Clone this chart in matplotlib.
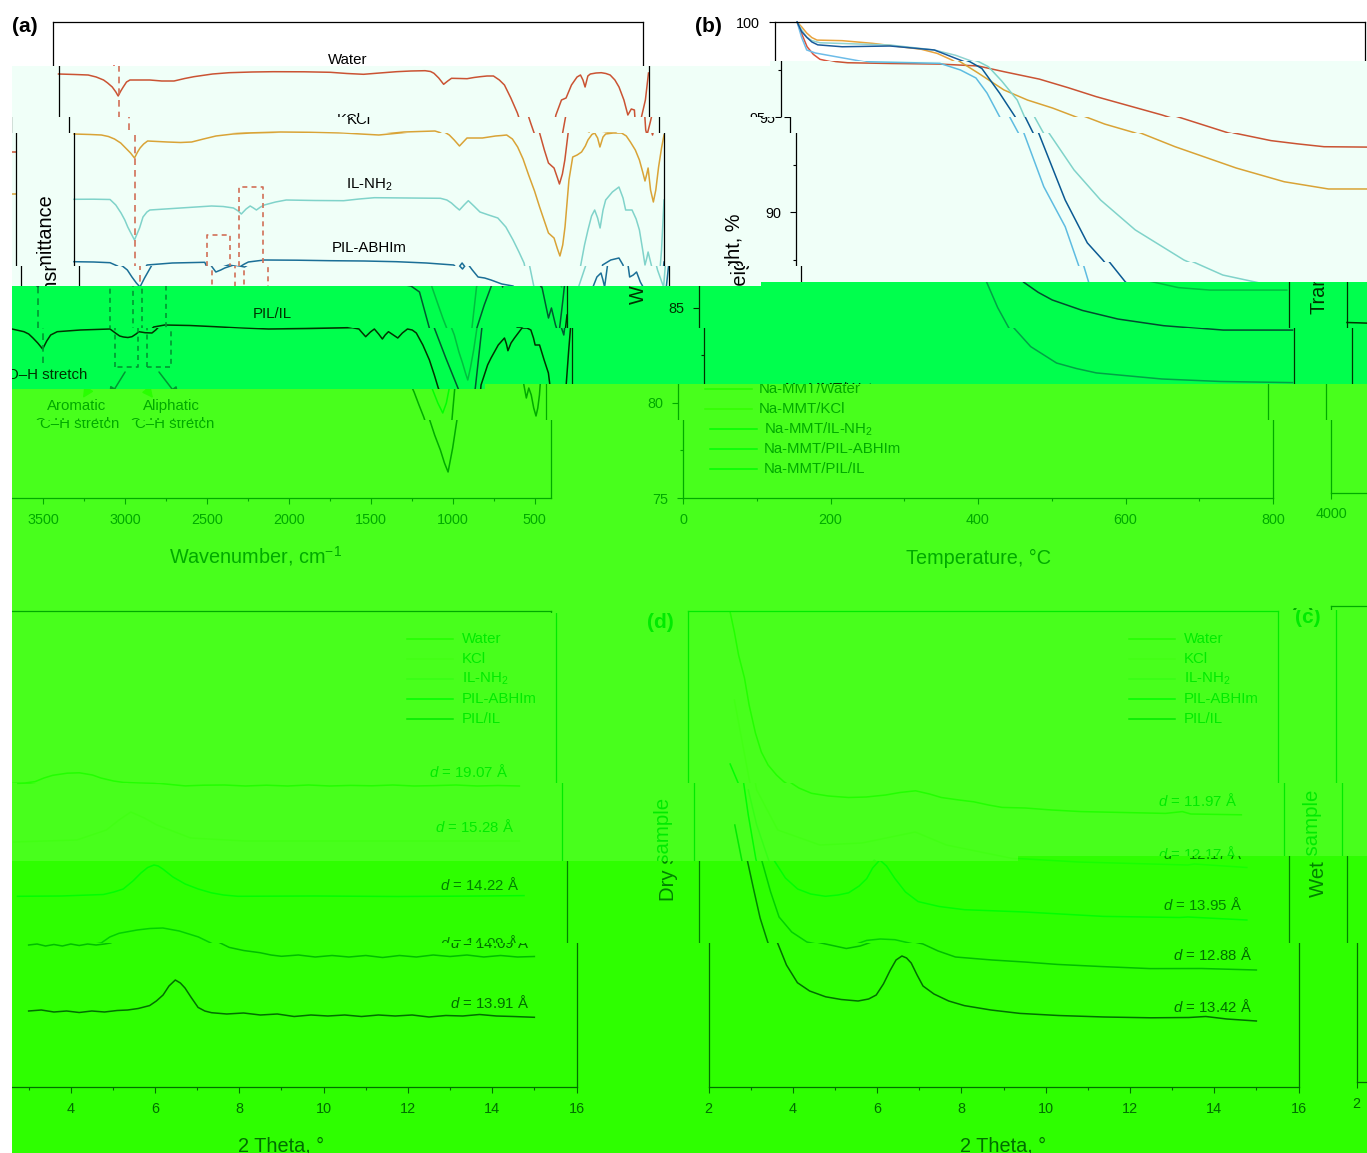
import matplotlib
matplotlib.use("Agg")
import matplotlib.pyplot as plt
from matplotlib.colors import to_rgb
from matplotlib.patches import Rectangle
from matplotlib.text import Text
from matplotlib.transforms import Bbox

plt.rcParams['font.family'] = ['Liberation Sans', 'DejaVu Sans']
plt.rcParams['mathtext.fontset'] = 'custom'
plt.rcParams['mathtext.rm'] = 'Liberation Sans'
plt.rcParams['mathtext.it'] = 'Liberation Sans:italic'
plt.rcParams['mathtext.bf'] = 'Liberation Sans:bold'
plt.rcParams['mathtext.default'] = 'regular'

W_PX, H_PX = 1367, 1153

# ---------- panel (a): FTIR, stacked transmittance (a.u., axis reads downward): (wavenumber, level)
ftir_water = [(4000,74),(3900,74.5),(3819,75),(3770,77),(3725,80),(3700,83),(3672,87),(3650,92),(3636,96),(3620,91),(3605,87),(3585,82),(3564,80),(3500,80),(3443,80),(3370,81),(3295,81),(3230,78.5),(3174,76.7),(3060,74),(2959,72.7),(2820,72),(2690,71.7),(2500,71.8),(2341,72.3),(2240,73.5),(2139,74.3),(2040,73),(1938,71.7),(1850,71),(1763,70.7),(1730,71.5),(1709,73.3),(1680,78),(1650,84.3),(1625,81),(1602,78.3),(1550,78.5),(1507,78.7),(1465,77.5),(1427,76.7),(1385,76),(1346,76),(1310,80),(1279,85),(1240,98),(1200,113),(1180,123),(1159,133),(1130,150),(1105,163),(1085,166),(1071,168),(1050,178),(1038,184),(1020,174),(1005,160),(985,133),(965,115),(931,100),(903,98),(870,85),(836,77),(815,75),(800,80),(787,87),(770,76),(755,74),(720,73),(688,72.7),(660,73.5),(634,75),(605,80),(580,87),(550,100),(526,115),(505,109),(486,110),(478,130),(470,135),(450,122),(419,100),(400,73)]
ftir_kcl = [(4000,134),(3900,134.5),(3833,135),(3790,136.5),(3753,139),(3715,143),(3685,148),(3655,153),(3631,158),(3612,152),(3597,148),(3575,144),(3551,141),(3490,141.5),(3430,142),(3350,142.5),(3282,142),(3210,139),(3134,136),(3030,134),(2920,133),(2810,132.5),(2706,132),(2530,132.3),(2355,133),(2250,134),(2140,135),(2045,133.5),(1952,132),(1860,131.5),(1764,131),(1735,132.5),(1710,135),(1680,140),(1648,146),(1625,142),(1602,138),(1555,138),(1508,138),(1468,137),(1428,136),(1390,135.5),(1360,135),(1325,139),(1293,147),(1260,159),(1226,175),(1190,191),(1159,207),(1130,221),(1105,233),(1085,236),(1071,238),(1050,249),(1035,256),(1018,245),(1004,227),(980,180),(957,157),(930,155),(903,152),(880,146),(864,140),(840,134.5),(823,133),(805,138),(791,147),(772,137),(756,134),(710,133),(659,133),(630,136),(605,142),(575,150),(550,160),(530,172),(516,181),(505,174),(497,168),(482,190),(465,202),(450,190),(433,167),(415,148),(400,135)]
ftir_il = [(4000,199.3),(3880,199.2),(3780,199.5),(3745,205),(3713,213),(3690,220),(3672,227),(3650,234),(3631,240),(3600,228),(3579,217),(3555,212),(3537,210),(3350,208),(3161,206),(3090,206.5),(3027,208),(2998,211),(2979,214),(2950,209),(2925,206),(2905,208),(2887,210),(2862,207),(2839,205),(2770,202),(2705,200),(2530,200.5),(2355,200.7),(2260,199),(2167,197.7),(1960,198),(1764,198.3),(1725,200),(1697,203),(1670,207),(1648,210),(1620,205),(1594,200.7),(1560,206),(1523,212),(1470,215),(1414,218),(1365,227),(1321,240),(1285,252),(1254,263),(1224,287),(1190,303),(1158,318),(1118,335),(1090,352),(1068,363),(1050,373),(1036,380),(1020,368),(1000,350),(980,328),(952,287),(909,266),(885,245),(864,230),(842,216),(823,210),(805,218),(790,228),(772,210),(756,200),(715,192),(675,187),(650,198),(634,210),(615,210),(595,210),(570,219),(550,230),(530,250),(516,265),(505,258),(497,252),(470,270),(433,287),(415,250),(400,200)]
ftir_abh = [(4000,261.7),(3880,262),(3780,262.7),(3735,266),(3705,270),(3677,277),(3650,283),(3628,287),(3600,278),(3555,265),(3400,263),(3202,262.3),(3192,266),(3165,272),(3135,270),(3111,268),(3057,265),(3020,266),(2990,267),(2960,264),(2936,262),(2839,260),(2640,260.2),(2435,260.7),(2230,261),(2032,261.7),(1850,263),(1683,265),(1660,269),(1632,263),(1600,270),(1565,277),(1525,278),(1486,280),(1420,284),(1352,286),(1300,292),(1240,328),(1170,358),(1096,388),(1060,403),(1030,413),(1008,403),(990,388),(950,328),(905,305),(864,287),(840,277),(815,273),(803,280),(793,287),(775,265),(725,260),(675,258),(650,265),(640,277),(618,275),(598,272),(575,282),(558,287),(553,287),(513,318),(495,308),(470,325),(450,335),(425,300),(400,262)]
ftir_pil = [(4000,328),(3900,328.5),(3817,329),(3744,331.7),(3715,334),(3689,338),(3660,343),(3630,349),(3605,341),(3581,335),(3541,331.7),(3400,330),(3219,329),(3186,333),(3160,336),(3137,337),(3110,337.5),(3085,336.7),(3060,334),(3043,331.7),(3005,332.7),(2963,333),(2940,330),(2922,327),(2855,325),(2700,325.5),(2546,326.7),(2400,328),(2251,329),(2000,328.5),(1740,327.7),(1700,329),(1686,331.7),(1659,336.7),(1630,332),(1606,329),(1580,334),(1557,339),(1540,335),(1520,331.7),(1490,335),(1463,338),(1435,333),(1404,329),(1375,330),(1350,333),(1310,345),(1270,360),(1240,375),(1216,388),(1205,392),(1175,405),(1146,417),(1110,435),(1075,450),(1050,463),(1028,472),(1000,448),(974,420),(955,385),(935,375),(915,365),(894,358),(850,345),(812,338),(800,344),(791,350.7),(772,343),(751,338),(705,328),(675,328),(651,330),(635,338),(625,345),(610,345),(598,345),(570,360),(544,373),(535,385),(520,398),(505,388),(490,395),(475,408),(461,416),(450,408),(440,395),(420,350),(409,328),(400,315)]
aromatic_wn = [3188, 3046]
aliphatic_wn = [2993, 2849]
oh_wn = [3630]

# ---------- panel (b): TGA: (temperature, weight %)
tga_water = [(30,100),(36,99.4),(43.5,98.70),(52,98.3),(61,98.04),(75,97.92),(91,97.86),(150,97.82),(216,97.79),(268,97.69),(303,97.39),(351,97.0),(390,96.55),(428,96.08),(517,95.12),(594,94.17),(644,93.77),(680,93.6),(716,93.45),(774,93.43),(800,93.43)]
tga_kcl = [(30,100),(36,99.75),(43,99.42),(50,99.18),(57,99.05),(91,99.02),(132,98.88),(198,98.57),(220,98.35),(240,98.0),(268,97.32),(303,96.43),(335,95.9),(369,95.48),(426,94.64),(466,94.19),(514,93.45),(597,92.33),(662,91.61),(722,91.23),(800,91.23)]
tga_il = [(30,100),(36,99.6),(43,99.2),(50,99.02),(61,98.91),(156,98.79),(216,98.53),(245,98.25),(269,97.91),(282,97.65),(300,96.9),(321,95.90),(331,95.01),(343,94.17),(377,92.23),(413,90.65),(460,89.08),(526,87.50),(572,86.71),(614,86.36),(650,86.05),(693,85.92),(797,85.92)]
tga_abh = [(30,100),(36,99.2),(43,98.53),(55,98.37),(121,97.91),(216,97.83),(244,97.48),(265,97.06),(280,96.27),(297,95.03),(309,94.17),(336,91.35),(365,89.25),(383,87.24),(390,86.34),(405,85.0),(420,83.94),(443,82.95),(478,82.09),(505,81.8),(532,81.57),(621,81.25),(700,81.12),(798,81.06)]
tga_pil = [(30,100),(36,99.5),(43,99.2),(50,98.95),(58,98.80),(91,98.70),(156,98.74),(216,98.53),(257,97.91),(273,97.56),(297,96.27),(318,95.03),(329,94.17),(365,90.65),(395,88.4),(416,87.5),(440,86.34),(460,85.8),(479,85.4),(520,84.85),(568,84.4),(630,84.05),(704,83.82),(798,83.82)]

# ---------- panel (c): XRD wet sample (a.u., axis reads downward): (2 theta, level)
wet_water = [(3.1,783.4),(3.4,783),(3.64,781.6),(3.85,778),(4.06,775.3),(4.4,773.2),(4.69,772.8),(5.0,775),(5.2,778),(5.5,781),(5.73,782.4),(6.1,783),(6.46,783.4),(7.07,785.9),(7.5,785.2),(8,785),(8.5,786),(9,785.2),(9.5,786),(10,785),(10.5,786),(11,785.4),(11.5,785.8),(12,785),(12.5,786),(13,785.6),(13.5,785),(14,786),(14.5,785.5),(15,786)]
wet_kcl = [(3,842),(4.5,840),(5.2,830),(5.5,820),(5.78,812),(6.1,818),(6.4,825),(7.2,838),(8.5,841),(15,841)]
wet_il = [(2.96,896.3),(4,896),(5.0,894.5),(5.25,892),(5.47,889),(5.7,881),(5.89,873),(6.05,867.5),(6.2,865),(6.3,866),(6.41,869),(6.65,877),(6.94,884),(7.25,889),(7.56,892.8),(7.85,895),(8.19,896.3),(10,896),(12,896.5),(14,896),(14.98,895.6)]
wet_abh = [(3,945),(3.2,944),(3.4,946),(3.6,944.5),(3.8,946),(4,944),(4.2,945.5),(4.4,944),(4.6,945),(4.8,944),(4.95,942.9),(5.15,937),(5.37,933.3),(5.8,930),(6.1,928.5),(6.41,928),(6.8,931),(7.25,936.9),(7.5,942),(7.76,947.4),(8.1,950.5),(8.49,952.7),(8.75,955),(9,956.3),(9.4,955),(9.8,957),(10.2,955.5),(10.6,957),(11,955.5),(11.4,957.5),(11.8,955.5),(12.2,957),(12.6,955),(13,956.5),(13.4,955),(13.8,957),(14.2,955.5),(14.6,957),(15,956.5)]
wet_pil = [(3,1011),(3.3,1010),(3.6,1012),(3.9,1011),(4.2,1012.5),(4.5,1011),(4.8,1012),(5.1,1010.5),(5.35,1010),(5.6,1008.5),(5.87,1005.6),(6.03,1001),(6.19,995),(6.33,986),(6.48,980),(6.6,983),(6.71,988),(6.85,997),(7.02,1007.4),(7.18,1011),(7.34,1012.7),(7.7,1014),(8.1,1013),(8.5,1015),(8.9,1014),(9.3,1016.5),(9.7,1015),(10.1,1016),(10.5,1015),(10.9,1016.5),(11.3,1015),(11.7,1016),(12.1,1015),(12.5,1017),(12.9,1015.5),(13.3,1016),(13.7,1014.5),(14.1,1016),(14.5,1016.5),(15,1017.3)]

# ---------- panel (d): XRD dry sample
dry_water = [(3.0,612),(3.1,632),(3.2,655),(3.34,678),(3.45,705),(3.6,733),(3.74,752),(3.9,765),(4.1,775),(4.27,781.6),(4.5,788),(4.8,793.3),(5.2,796),(5.68,797.5),(6.1,797),(6.56,795),(6.9,792.5),(7.27,790.8),(7.6,794),(7.88,797.5),(8.3,800),(8.65,801.8),(9,805),(9.32,807.4),(9.87,808),(10.5,810),(11.2,811.6),(12.2,812.5),(13.2,813.4),(13.6,811.6),(13.8,814),(15,814.8)]
dry_kcl = [(3.1,700),(3.5,790),(4.0,830),(5,845),(6.0,843),(7.26,832),(8,845),(9.57,858.5),(11,862),(13.6,865),(13.75,864),(15,867.5)]
dry_il = [(3.3,790),(3.5,825),(3.79,861),(4.05,878),(4.34,889),(4.65,894),(5.0,896.3),(5.3,895),(5.55,892.8),(5.8,886),(5.98,878.6),(6.12,868),(6.29,860),(6.45,866),(6.65,878.6),(6.9,892),(7.2,901.6),(7.7,906.5),(8.3,909.7),(9.73,912),(11.6,916.4),(13.4,917.5),(13.6,917),(15,920)]
dry_abh = [(3.0,764),(3.19,783),(3.3,815),(3.48,859),(3.7,892),(3.9,917),(4.2,932),(4.56,942),(4.78,944),(5.27,948.5),(5.6,946),(5.98,940.4),(6.3,939),(6.65,939.7),(7.09,944),(7.45,951),(7.86,957),(8.73,960),(9.5,962),(10.27,964.4),(11.3,966.5),(12.48,968.6),(13.7,968.5),(15,970)]
dry_pil = [(2.98,825),(3.15,861),(3.3,890),(3.45,918),(3.63,942),(3.85,965),(4.11,982.7),(4.4,991),(4.78,996.8),(5.15,999.5),(5.55,1001),(5.8,999),(5.98,995),(6.15,984),(6.31,970.4),(6.45,960),(6.59,956),(6.7,958),(6.81,963),(6.95,975),(7.09,986),(7.35,994),(7.7,1001),(8.07,1005.6),(8.7,1010),(9.39,1013.4),(10.3,1015.5),(11.39,1017),(12.5,1017.8),(13.4,1017.5),(13.8,1016.5),(14.3,1019),(15,1021)]

wet_labels = ["19.07", "15.28", "14.22", "14.09", "13.91"]
wet_label_y = [771, 826, 884, 942, 1003]
dry_labels = ["11.97", "12.17", "13.95", "12.88", "13.42"]
dry_label_y = [800, 853, 904, 955, 1006]
legend_names = ["Water", "KCl", "IL-NH$_2$", "PIL-ABHIm", "PIL/IL"]

RED, ORANGE, TEAL = "#D9533A", "#E8A33D", "#8FD3D1"
BLUE_A, LIGHTBLUE, DARKBLUE, DARKBLUE2 = "#2A6F9E", "#6DBCE8", "#1A5A9A", "#1C4F8A"
DASH = "#E0705F"

# ---------- geometry in reference pixels
PANELS = {
    'a': dict(x0=53, x1=643, y0=22, y1=498),
    'b': dict(x0=775, x1=1365, y0=22, y1=498),
    'c': dict(x0=53, x1=643, y0=611, y1=1087),
    'd': dict(x0=775, x1=1365, y0=611, y1=1087),
}
EXTENT = {'a': (5, 665, 0, 575), 'b': (690, 1372, 0, 575),
          'c': (5, 665, 595, 1153), 'd': (725, 1372, 595, 1153)}

# band boundaries: (y left, x split, y right)
BOUNDS = [(0, 0, 0), (66, 770, 61), (117, 0, 117), (133, 0, 133), (266, 1100, 262),
          (286, 761, 282), (328, 0, 328), (389, 485, 384), (420, 0, 420),
          (613, 600, 610), (783, 0, 783), (861, 1018, 856), (943, 0, 943), (1153, 0, 1153)]
SHIFT = [0, 5.5, 15.5, 21, 26, -76, -71, -97, -92, -87, -81.5, -76, -66.5]
WRAP = 1370
BG = [None, "#F0FFF8", "#F0FFF8", "#F0FFF8", "#F0FFF8", "#00FF4D", "#00FF4D",
      "#48FF1C", "#48FF1C", "#48FF1C", "#48FF1C", "#2EFF00", "#2EFF00"]
GREEN_K = {7: 170, 8: 170, 9: 235, 10: 235, 11: 130, 12: 110}


def tint(color, band):
    r, g, b = [v * 255 for v in to_rgb(color)]
    if band == 0:
        out = (r, g, b)
    elif band <= 4:
        out = (r - 15, g, b - 7)
    elif band <= 6:
        if color == DASH:
            out = (0, 150, 50)
        else:
            out = (0, 50 + 205 * (g / 255) ** 2, 77 * b / 255)
    elif band <= 10:
        out = (r - 183, g + GREEN_K[band], b - 227)
    else:
        out = (r - 209, g + GREEN_K[band], b - 255)
    return tuple(min(1, max(0, v / 255)) for v in out)


def boundary_y(bd, x):
    return bd[0] if (bd[1] == 0 or x < bd[1]) else bd[2]


def sections(i):
    top, bot = BOUNDS[i], BOUNDS[i + 1]
    xs = sorted({0, W_PX, top[1], bot[1]})
    return [(a, b, boundary_y(top, (a + b) / 2), boundary_y(bot, (a + b) / 2))
            for a, b in zip(xs[:-1], xs[1:])]


fig = plt.figure(figsize=(W_PX / 100, H_PX / 100), dpi=100, facecolor="white")


def make_axes(name, dx, dy, band):
    p = PANELS[name]
    ax = fig.add_axes([(p['x0'] + dx) / W_PX, 1 - (p['y1'] + dy) / H_PX,
                       (p['x1'] - p['x0']) / W_PX, (p['y1'] - p['y0']) / H_PX])
    ax.patch.set_visible(False)
    k = tint("black", band)
    for s in ax.spines.values():
        s.set_linewidth(0.9)
        s.set_edgecolor(k)
    ax.tick_params(which='major', direction='out', length=4.3, width=0.8, color=k,
                   labelcolor=k, labelsize=10.4, pad=6.5)
    ax.tick_params(which='minor', direction='out', length=2.4, width=0.8, color=k)
    return ax


def px_text(ax, name, x, y, s, band, **kw):
    p = PANELS[name]
    fx = (x - p['x0']) / (p['x1'] - p['x0'])
    fy = (p['y1'] - y) / (p['y1'] - p['y0'])
    kw.setdefault('ha', 'center')
    kw.setdefault('va', 'center')
    kw.setdefault('fontsize', 10.8)
    ax.text(fx, fy, s, transform=ax.transAxes, color=tint("black", band), **kw)


def line_alpha(color, band):
    # thin pale lines all but vanish on the light-green bands of the reference
    return 0.25 if band in (9, 10) and color in (ORANGE, TEAL) else 1.0


def px_legend(ax, name, xl0, xl1, xt, ys, names, colors, band):
    p = PANELS[name]
    w, h = p['x1'] - p['x0'], p['y1'] - p['y0']
    for y, n, c in zip(ys, names, colors):
        fy = (p['y1'] - y) / h
        ax.plot([(xl0 - p['x0']) / w, (xl1 - p['x0']) / w], [fy, fy], color=tint(c, band),
                lw=1.1, transform=ax.transAxes, alpha=line_alpha(c, band))
        px_text(ax, name, xt, y, n, band, ha='left')


def plot_series(ax, pts, color, band):
    ax.plot([p[0] for p in pts], [p[1] for p in pts], color=tint(color, band), lw=1.1,
            alpha=line_alpha(color, band), solid_joinstyle='round')


def draw_a(ax, band):
    dash = tint(DASH, band)
    ax.set_xlim(4000, 400)
    ax.set_ylim(498, 22)
    ax.set_yticks([])
    ax.set_xticks(range(500, 4001, 500))
    ax.set_xticks(range(750, 4000, 500), minor=True)
    for pts, c in [(ftir_water, RED), (ftir_kcl, ORANGE), (ftir_il, TEAL),
                   (ftir_abh, BLUE_A), (ftir_pil, "black")]:
        plot_series(ax, pts, c, band)
    ax.plot(oh_wn * 2, [65, 363], color=dash, lw=1.2, ls=(0, (4, 3)))
    for wn, top in [(aromatic_wn, 235), (aliphatic_wn, 187)]:
        ax.plot([wn[0], wn[0], wn[1], wn[1], wn[0]], [367, top, top, 367, 367],
                color=dash, lw=1.2, ls=(0, (3, 2.5)))
    for start, end in [((3127, 372), (3225, 398)), ((2920, 372), (2798, 398))]:
        ann = ax.annotate("", xy=end, xytext=start,
                          arrowprops=dict(arrowstyle='-|>', color=dash, lw=1.1, mutation_scale=16,
                                          shrinkA=0, shrinkB=0))
        ARROWS.append((ann, ax))
    for x, y, s in [(348, 60, "Water"), (343, 120, "KCl"), (348, 185, "IL-NH$_2$"),
                    (348, 248, "PIL-ABHIm"), (348, 314, "PIL/IL"), (118, 375, "O\u2013H stretch"),
                    (174, 406, "Aromatic"), (172, 424, "C\u2013H stretch"),
                    (268, 406, "Aliphatic"), (267, 424, "C\u2013H stretch")]:
        px_text(ax, 'a', x, y, s, band)
    px_text(ax, 'a', 348, 556, "Wavenumber, cm$^{\u22121}$", band, fontsize=14.3)
    px_text(ax, 'a', 25, 257, "Transmittance", band, rotation=90, fontsize=14.3)
    px_text(ax, 'a', 25, 26, "(a)", band, fontsize=15, fontweight='bold')


def draw_b(ax, band):
    ax.set_xlim(0, 800)
    ax.set_ylim(75, 100)
    ax.set_xticks(range(0, 801, 200))
    ax.set_xticks(range(100, 800, 200), minor=True)
    ax.set_yticks(range(75, 101, 5))
    ax.set_yticks([77.5, 82.5, 87.5, 92.5, 97.5], minor=True)
    colors = [RED, ORANGE, TEAL, LIGHTBLUE, DARKBLUE]
    for pts, c in zip([tga_water, tga_kcl, tga_il, tga_abh, tga_pil], colors):
        plot_series(ax, pts, c, band)
    px_legend(ax, 'b', 802, 849, 856, [389, 409, 429, 449, 469],
              ["Na-MMT/" + n for n in legend_names], colors, band)
    px_text(ax, 'b', 1070, 558, "Temperature, \u00b0C", band, fontsize=14.3)
    px_text(ax, 'b', 714, 259, "Weight, %", band, rotation=90, fontsize=14.3)
    px_text(ax, 'b', 708, 26, "(b)", band, fontsize=15, fontweight='bold')


def draw_xrd(ax, name, band, series, labels, label_y, label_x, ylab, ylab_x, letter, letter_x, letter_y):
    ax.set_xlim(2, 16)
    ax.set_ylim(1087, 611)
    ax.set_yticks([])
    ax.set_xticks(range(2, 17, 2))
    ax.set_xticks(range(3, 16, 2), minor=True)
    colors = [RED, ORANGE, TEAL, DARKBLUE2, "black"]
    for pts, c in zip(series, colors):
        plot_series(ax, pts, c, band)
    for y, s in zip(label_y, labels):
        px_text(ax, name, label_x, y, "$\\mathit{d}$ = " + s + " \u00c5", band)
    p0 = PANELS[name]['x0']
    px_legend(ax, name, p0 + 441, p0 + 487, p0 + 496, [639, 659, 679, 699, 719],
              legend_names, colors, band)
    px_text(ax, name, p0 + 295, 1146, "2 Theta, \u00b0", band, fontsize=14.3)
    px_text(ax, name, ylab_x, 849, ylab, band, rotation=90, fontsize=14.7)
    px_text(ax, name, letter_x, letter_y, letter, band, fontsize=15, fontweight='bold')


def draw_panel(name, ax, band):
    if name == 'a':
        draw_a(ax, band)
    elif name == 'b':
        draw_b(ax, band)
    elif name == 'c':
        draw_xrd(ax, 'c', band, [wet_water, wet_kcl, wet_il, wet_abh, wet_pil],
                 wet_labels, wet_label_y, 556, "Wet sample", 24, "(c)", 25, 623)
    else:
        draw_xrd(ax, 'd', band, [dry_water, dry_kcl, dry_il, dry_abh, dry_pil],
                 dry_labels, dry_label_y, 1279, "Dry sample", 745, "(d)", 747, 622)


ARROWS = []
CLIPPED = []
for band in range(len(SHIFT)):
    s = SHIFT[band]
    offsets = [(s, 0)]
    if s < 0:
        offsets.append((s + WRAP, -5.5))
    elif s > 0:
        offsets.append((s - WRAP, 5))
    for (xa, xb, yt, yb) in sections(band):
        if BG[band]:
            fig.add_artist(Rectangle((xa / W_PX, 1 - yb / H_PX), (xb - xa) / W_PX, (yb - yt) / H_PX,
                                     transform=fig.transFigure, facecolor=BG[band], edgecolor='none',
                                     zorder=-5))
        if yb <= yt:
            continue
        box = Bbox([[xa, H_PX - yb], [xb, H_PX - yt]])
        for name, (ex0, ex1, ey0, ey1) in EXTENT.items():
            for dx, dy in offsets:
                if ex1 + dx < xa or ex0 + dx > xb or ey1 + dy < yt or ey0 + dy > yb:
                    continue
                ax = make_axes(name, dx, dy, band)
                n_arrows = len(ARROWS)
                draw_panel(name, ax, band)
                for art in ax.findobj():
                    if art is ax or art is ax.patch:
                        continue
                    art.set_clip_on(True)
                    art.set_clip_path(None)
                    art.set_clip_box(box)
                for ann, _ in ARROWS[n_arrows:]:
                    ann.arrow_patch.set_clip_on(True)
                    ann.arrow_patch.set_clip_path(None)
                    ann.arrow_patch.set_clip_box(box)
                CLIPPED.append((ax, box))

# white strip that the shifted bands leave along the left edge
fig.add_artist(Rectangle((0, 0), 12 / W_PX, 1 - 66 / H_PX, transform=fig.transFigure,
                         facecolor="white", edgecolor='none', zorder=50))

# hide every text that falls wholly outside its band
fig.canvas.draw()
rend = fig.canvas.get_renderer()
for ax, box in CLIPPED:
    for t in ax.findobj(Text):
        if not t.get_text():
            continue
        if not t.get_window_extent(rend).overlaps(box):
            t.set_visible(False)

fig.savefig("out.png", dpi=100, facecolor="white")
